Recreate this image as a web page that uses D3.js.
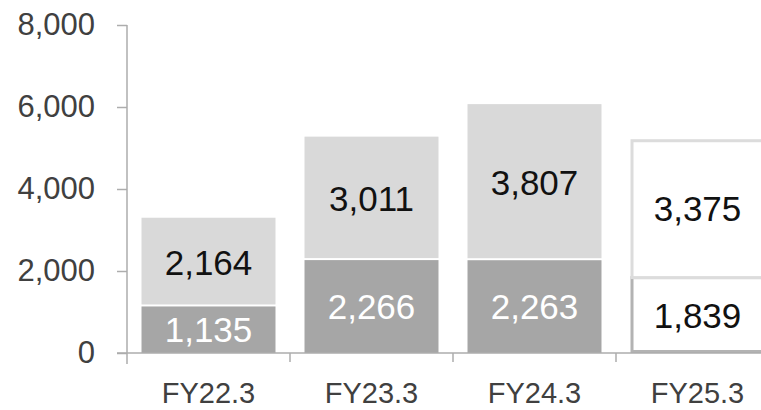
<!DOCTYPE html>
<html>
<head>
<meta charset="utf-8">
<script src="https://cdn.jsdelivr.net/npm/d3@7"></script>
<style>
  html, body { margin: 0; padding: 0; background: #fff; }
  svg { display: block; }
  text { font-family: "Liberation Sans", Arial, sans-serif; }
</style>
</head>
<body>
<svg id="chart" width="761" height="410"></svg>
<script>
// Fiscal years and the two stacked components
const categories = ["FY22.3", "FY23.3", "FY24.3", "FY25.3"];
const lowerValues = [1135, 2266, 2263, 1839];
const upperValues = [2164, 3011, 3807, 3375];
const forecastFlags = [false, false, false, true];
const yTicks = [0, 2000, 4000, 6000, 8000];

const svg = d3.select("#chart");
const W = 761, H = 410;

const axisLeftX = 127;
const bottomY = 353;
const step = 163;

const x = d3.scaleBand()
  .domain(categories)
  .range([axisLeftX, axisLeftX + step * categories.length])
  .paddingInner(0).paddingOuter(0);

const y = d3.scaleLinear().domain([0, 8000]).range([bottomY, 25]);

const barW = x.bandwidth() * 0.822;
const barOff = (x.bandwidth() - barW) / 2;

const axisColor = "#adadad";
const darkFill = "#a6a6a6";
const lightFill = "#d9d9d9";
const gap = 2;

// Y axis
const yAxis = d3.axisLeft(y)
  .tickValues(yTicks)
  .tickSize(10)
  .tickPadding(22)
  .tickFormat(d3.format(","));

const gy = svg.append("g")
  .attr("transform", `translate(${axisLeftX},0)`)
  .call(yAxis);
gy.select(".domain").remove();
gy.selectAll(".tick line").attr("stroke", axisColor).attr("stroke-width", 1.5);
gy.selectAll(".tick text")
  .attr("fill", "#404040")
  .style("font-size", "31px")
  .style("font-family", "'Liberation Sans', Arial, sans-serif");

// vertical axis line, running slightly past zero
svg.append("line")
  .attr("x1", axisLeftX).attr("x2", axisLeftX)
  .attr("y1", y(8000)).attr("y2", bottomY + 11)
  .attr("stroke", axisColor).attr("stroke-width", 1.5);

// Bars
const data = categories.map((c, i) => ({
  cat: c, lower: lowerValues[i], upper: upperValues[i], forecast: forecastFlags[i]
}));

const bars = svg.append("g");
data.forEach(d => {
  const x0 = x(d.cat) + barOff;
  const yLowerTop = y(d.lower);
  const yUpperTop = y(d.lower + d.upper);
  if (!d.forecast) {
    bars.append("rect")
      .attr("x", x0).attr("width", barW)
      .attr("y", yLowerTop).attr("height", bottomY - yLowerTop)
      .attr("fill", darkFill);
    bars.append("rect")
      .attr("x", x0).attr("width", barW)
      .attr("y", yUpperTop).attr("height", yLowerTop - yUpperTop - gap)
      .attr("fill", lightFill);
  } else {
    const sw = 3;
    bars.append("rect")
      .attr("x", x0 + sw / 2).attr("width", barW - sw)
      .attr("y", yLowerTop).attr("height", bottomY - yLowerTop - sw / 2)
      .attr("fill", "#fff").attr("stroke", "#b3b3b3").attr("stroke-width", sw);
    bars.append("rect")
      .attr("x", x0 + sw / 2).attr("width", barW - sw)
      .attr("y", yUpperTop + sw / 2).attr("height", yLowerTop - yUpperTop - sw / 2)
      .attr("fill", "#fff").attr("stroke", "#dcdcdc").attr("stroke-width", sw);
  }
  // value labels
  bars.append("text")
    .attr("x", x(d.cat) + x.bandwidth() / 2)
    .attr("y", (yLowerTop + bottomY) / 2)
    .attr("text-anchor", "middle")
    .attr("dominant-baseline", "central")
    .attr("fill", d.forecast ? "#111" : "#fff")
    .style("font-size", "35px")
    .text(d3.format(",")(d.lower));
  bars.append("text")
    .attr("x", x(d.cat) + x.bandwidth() / 2)
    .attr("y", (yUpperTop + yLowerTop) / 2)
    .attr("text-anchor", "middle")
    .attr("dominant-baseline", "central")
    .attr("fill", "#111")
    .style("font-size", "35px")
    .text(d3.format(",")(d.upper));
});

// X axis: baseline with boundary ticks
svg.append("line")
  .attr("x1", axisLeftX - 10).attr("x2", W)
  .attr("y1", bottomY).attr("y2", bottomY)
  .attr("stroke", axisColor).attr("stroke-width", 1.5);

const boundaries = categories.map(c => x(c)).concat([x.range()[1]]);
svg.append("g").selectAll("line")
  .data(boundaries.slice(1))
  .join("line")
  .attr("x1", d => d).attr("x2", d => d)
  .attr("y1", bottomY).attr("y2", bottomY + 9)
  .attr("stroke", axisColor).attr("stroke-width", 1.5);

svg.append("g").selectAll("text")
  .data(categories)
  .join("text")
  .attr("x", d => x(d) + x.bandwidth() / 2)
  .attr("y", 403)
  .attr("text-anchor", "middle")
  .attr("fill", "#404040")
  .style("font-size", "29px")
  .text(d => d);
</script>
</body>
</html>
